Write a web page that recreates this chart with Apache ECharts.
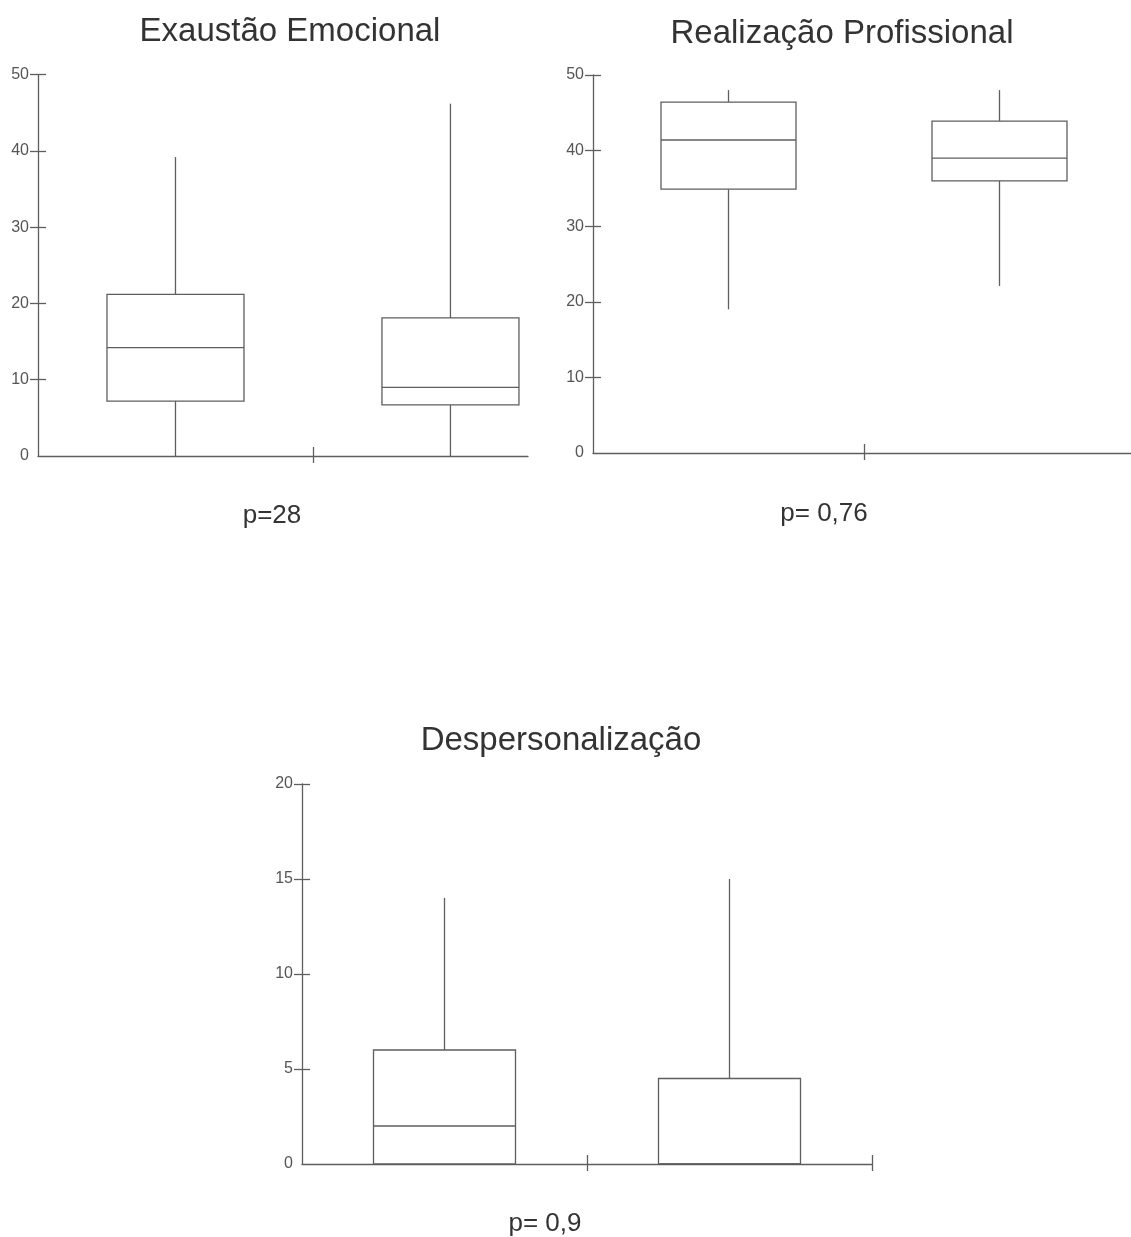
<!DOCTYPE html>
<html>
<head>
<meta charset="utf-8">
<script src="https://cdn.jsdelivr.net/npm/echarts@6/dist/echarts.min.js"></script>
<style>
  html, body { margin: 0; padding: 0; background: #fff; }
  #chart { width: 1131px; height: 1237px; }
</style>
</head>
<body>
<div id="chart"></div>
<script>
// ---- Data (min, Q1, median, Q3, max) ----
const groupPositions = [1, 2];
const exaustaoG1 = [0, 7.2, 14.2, 21.2, 39.2];
const exaustaoG2 = [0, 6.7, 9.0, 18.1, 46.2];
const realizacaoG1 = [19.0, 34.9, 41.4, 46.4, 48.0];
const realizacaoG2 = [22.1, 36.0, 39.0, 43.9, 48.0];
const despersG1 = [0, 0, 2, 6, 14];
const despersG2 = [0, 0, 0, 4.5, 15];

const titles = ['Exaustão Emocional', 'Realização Profissional', 'Despersonalização'];
const pValues = ['p=28', 'p= 0,76', 'p= 0,9'];
const yTicks50 = [0, 10, 20, 30, 40, 50];
const yTicks20 = [0, 5, 10, 15, 20];

// ---- Styles ----
const LINE = '#5e5e5e';
const LW = 1.3;
const FONT = '"Liberation Sans", Arial, sans-serif';

function boxRender(width) {
  return function (params, api) {
    const x = api.value(0);
    const pMin = api.coord([x, api.value(1)]);
    const pQ1 = api.coord([x, api.value(2)]);
    const pMed = api.coord([x, api.value(3)]);
    const pQ3 = api.coord([x, api.value(4)]);
    const pMax = api.coord([x, api.value(5)]);
    const hw = width / 2;
    const st = { stroke: LINE, lineWidth: LW, fill: null };
    return {
      type: 'group',
      children: [
        { type: 'line', shape: { x1: pMax[0], y1: pMax[1], x2: pQ3[0], y2: pQ3[1] }, style: st },
        { type: 'line', shape: { x1: pQ1[0], y1: pQ1[1], x2: pMin[0], y2: pMin[1] }, style: st },
        { type: 'rect', shape: { x: pQ3[0] - hw, y: pQ3[1], width: width, height: pQ1[1] - pQ3[1] },
          style: { stroke: LINE, lineWidth: LW, fill: '#fff' } },
        { type: 'line', shape: { x1: pMed[0] - hw, y1: pMed[1], x2: pMed[0] + hw, y2: pMed[1] }, style: st }
      ]
    };
  };
}

function rows(a, b) {
  return [[groupPositions[0]].concat(a), [groupPositions[1]].concat(b)];
}

const grids = [
  { left: 38, top: 74.7, width: 490, height: 381.3 },
  { left: 593, top: 75, width: 542, height: 378 },
  { left: 302, top: 784, width: 570, height: 380 }
];
const xMax = [2.282, 2.5, 2.5];
const xTickVals = [[1.5], [1.5, 2.5], [1.5, 2.5]];
const yMax = [50, 50, 20];
const yInt = [10, 10, 5];
const yTickVals = [yTicks50.slice(1), yTicks50.slice(1), yTicks20.slice(1)];
const boxW = [137, 135, 142];
const seriesData = [
  rows(exaustaoG1, exaustaoG2),
  rows(realizacaoG1, realizacaoG2),
  rows(despersG1, despersG2)
];

const xAxes = [], yAxes = [], series = [];
for (let i = 0; i < 3; i++) {
  const common = { type: 'value', gridIndex: i, min: 0.5, max: xMax[i], position: 'bottom',
    splitLine: { show: false }, axisLabel: { show: false } };
  xAxes.push(Object.assign({}, common, {
    axisLine: { show: true, onZero: false, lineStyle: { color: LINE, width: LW } },
    axisTick: { show: true, inside: false, length: 7, customValues: xTickVals[i], lineStyle: { color: LINE, width: LW } }
  }));
  xAxes.push(Object.assign({}, common, {
    axisLine: { show: false, onZero: false },
    axisTick: { show: true, inside: true, length: 9, customValues: xTickVals[i], lineStyle: { color: LINE, width: LW } }
  }));
  const yc = { type: 'value', gridIndex: i, min: 0, max: yMax[i], interval: yInt[i], position: 'left',
    splitLine: { show: false } };
  yAxes.push(Object.assign({}, yc, {
    axisLine: { show: true, onZero: false, lineStyle: { color: LINE, width: LW } },
    axisTick: { show: true, inside: false, length: 8, customValues: yTickVals[i], lineStyle: { color: LINE, width: LW } },
    axisLabel: { show: true, color: '#555', fontSize: 16, fontFamily: FONT, margin: 9 }
  }));
  yAxes.push(Object.assign({}, yc, {
    axisLine: { show: false, onZero: false },
    axisTick: { show: true, inside: true, length: 8, customValues: yTickVals[i], lineStyle: { color: LINE, width: LW } },
    axisLabel: { show: false }
  }));
  series.push({
    type: 'custom',
    xAxisIndex: i * 2,
    yAxisIndex: i * 2,
    renderItem: boxRender(boxW[i]),
    encode: { x: 0, y: [1, 2, 3, 4, 5] },
    data: seriesData[i],
    clip: false,
    z: 3
  });
}

const titlePos = [[290, 32], [842, 34], [561, 741]];
const pPos = [[272, 516], [824, 514], [545, 1224]];
const graphics = [];
for (let i = 0; i < 3; i++) {
  graphics.push({ type: 'text', x: titlePos[i][0], y: titlePos[i][1],
    style: { text: titles[i], fill: '#333', font: '33px ' + FONT, textAlign: 'center', textVerticalAlign: 'middle' } });
  graphics.push({ type: 'text', x: pPos[i][0], y: pPos[i][1],
    style: { text: pValues[i], fill: '#333', font: '26px ' + FONT, textAlign: 'center', textVerticalAlign: 'middle' } });
}

const chart = echarts.init(document.getElementById('chart'), null, { renderer: 'canvas' });
chart.setOption({
  backgroundColor: '#fff',
  animation: false,
  grid: grids.map(g => Object.assign({ containLabel: false, outerBoundsMode: 'none' }, g)),
  xAxis: xAxes,
  yAxis: yAxes,
  series: series,
  graphic: graphics
});
</script>
</body>
</html>
